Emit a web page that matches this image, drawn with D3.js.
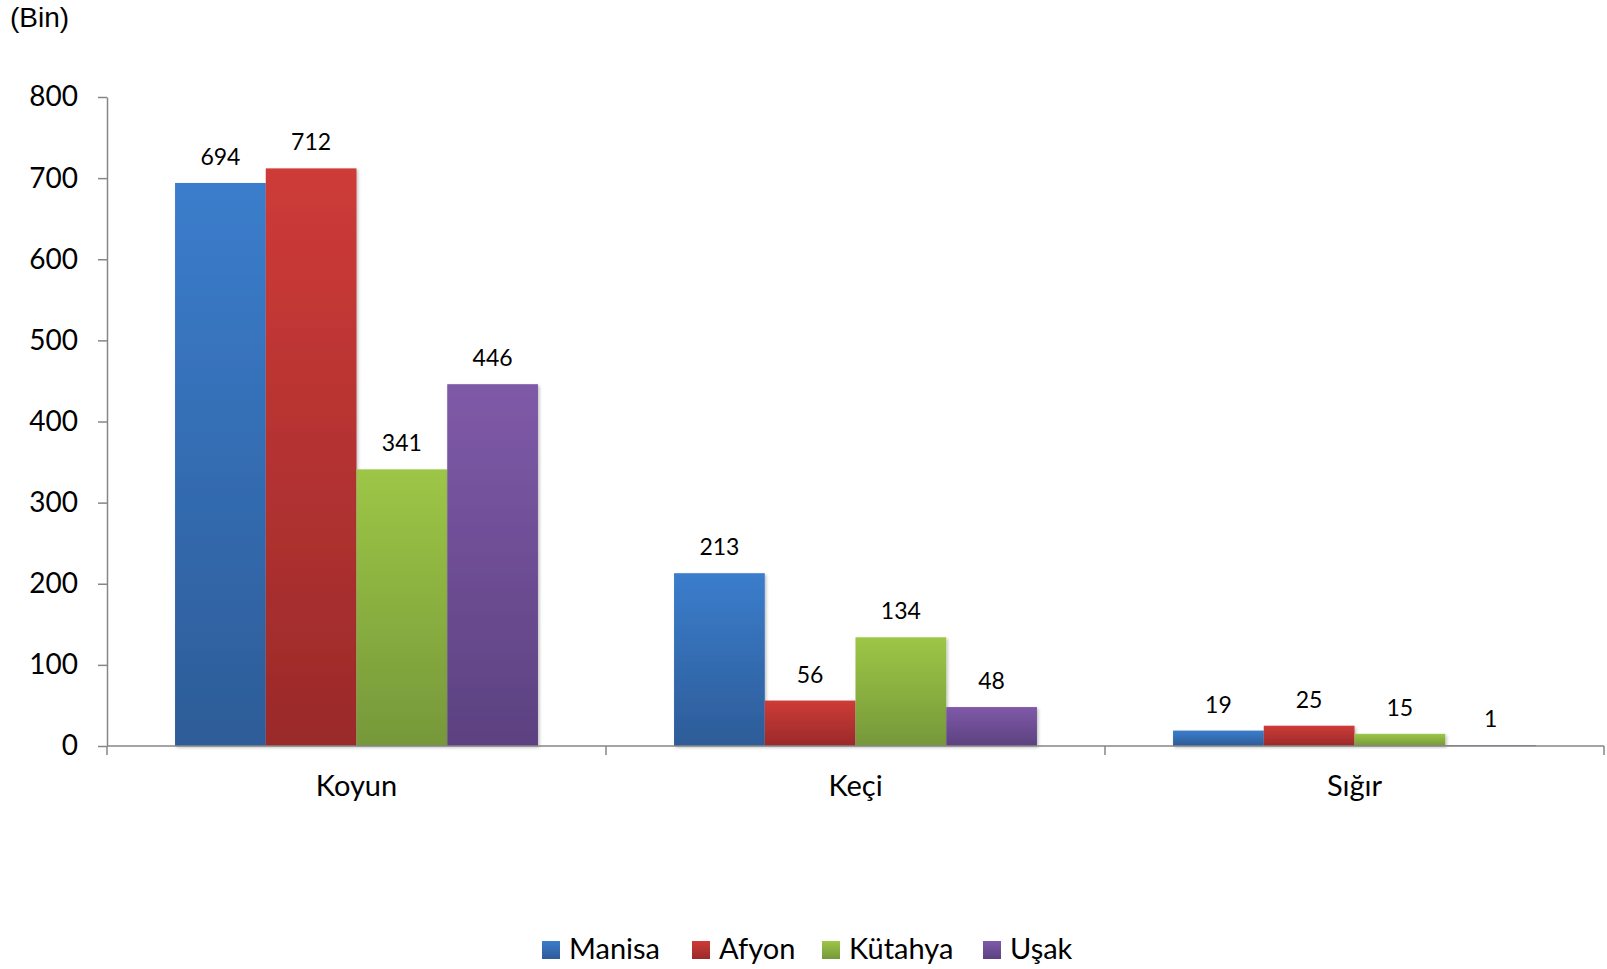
<!DOCTYPE html>
<html><head><meta charset="utf-8">
<script src="https://cdn.jsdelivr.net/npm/d3@7"></script>
<style>body{margin:0;background:#fff}svg{display:block}</style>
</head><body>
<script>
const categories = ["Koyun", "Keçi", "Sığır"];
const seriesNames = ["Manisa", "Afyon", "Kütahya", "Uşak"];
const manisa = [694, 213, 19];
const afyon = [712, 56, 25];
const kutahya = [341, 134, 15];
const usak = [446, 48, 1];
const yTicks = [0, 100, 200, 300, 400, 500, 600, 700, 800];
const unitLabel = "(Bin)";
const seriesValues = [manisa, afyon, kutahya, usak];
const colors = [["#3B7DCC", "#2D5C98"], ["#CE3B38", "#9A2A2A"], ["#9DC646", "#76983A"], ["#7F5AA8", "#5C4180"]];

const W = 1607, H = 969;
const svg = d3.select("body").append("svg").attr("width", W).attr("height", H);
const defs = svg.append("defs");
colors.forEach((c, i) => {
  const g = defs.append("linearGradient").attr("id", "g" + i).attr("x1", 0).attr("y1", 0).attr("x2", 0).attr("y2", 1);
  g.append("stop").attr("offset", "0%").attr("stop-color", c[0]);
  g.append("stop").attr("offset", "100%").attr("stop-color", c[1]);
});
const f = defs.append("filter").attr("id", "sh").attr("x", "-10%").attr("y", "-10%").attr("width", "130%").attr("height", "130%");
f.append("feDropShadow").attr("dx", 1.5).attr("dy", 1.5).attr("stdDeviation", 1.5).attr("flood-color", "#000").attr("flood-opacity", 0.25);

const x0 = 107, x1 = 1604, y0 = 746, y1 = 97;
const x = d3.scaleBand().domain(categories).range([x0, x1]).paddingInner(0).paddingOuter(0);
const xs = d3.scaleBand().domain(seriesNames).range([0, x.bandwidth()]).paddingInner(0).paddingOuter(0.75);
const y = d3.scaleLinear().domain([0, 800]).range([y0, y1]);

const font = "Lato, 'Open Sans', sans-serif";

// bars
seriesNames.forEach((s, si) => {
  const g = svg.append("g");
  g.selectAll("rect").data(categories).join("rect")
    .attr("x", c => x(c) + xs(s))
    .attr("y", (c, ci) => y(seriesValues[si][ci]))
    .attr("width", xs.bandwidth())
    .attr("height", (c, ci) => y0 - y(seriesValues[si][ci]))
    .attr("fill", "url(#g" + si + ")")
    .attr("filter", "url(#sh)");
  g.selectAll("text").data(categories).join("text")
    .attr("x", c => x(c) + xs(s) + xs.bandwidth() / 2)
    .attr("y", (c, ci) => y(seriesValues[si][ci]) - 18)
    .attr("text-anchor", "middle")
    .attr("font-family", font).attr("font-size", 23).attr("fill", "#000")
    .text((c, ci) => seriesValues[si][ci]);
});

// y axis
const yAxis = svg.append("g").attr("transform", `translate(${x0},0)`)
  .call(d3.axisLeft(y).tickValues(yTicks).tickSize(9).tickPadding(20).tickSizeOuter(0));
yAxis.select(".domain").attr("stroke", "#868686").attr("stroke-width", 1.5);
yAxis.selectAll(".tick line").attr("stroke", "#868686").attr("stroke-width", 1.5);
yAxis.selectAll("text").attr("font-family", font).attr("font-size", 28).attr("fill", "#000");

// x axis
const xa = svg.append("g").attr("transform", `translate(0,${y0})`);
xa.append("line").attr("x1", x0).attr("x2", x1).attr("y1", 0).attr("y2", 0).attr("stroke", "#868686").attr("stroke-width", 1.5);
const bounds = categories.map(c => x(c)).concat([x1]);
xa.selectAll("line.t").data(bounds).join("line").attr("class", "t")
  .attr("x1", d => d).attr("x2", d => d).attr("y1", 0).attr("y2", 9)
  .attr("stroke", "#868686").attr("stroke-width", 1.5);
xa.selectAll("text").data(categories).join("text")
  .attr("x", c => x(c) + x.bandwidth() / 2).attr("y", 50)
  .attr("text-anchor", "middle").attr("font-family", font).attr("font-size", 29).attr("fill", "#000")
  .text(c => c);

// unit label
svg.append("text").attr("x", 10).attr("y", 27).attr("font-family", "'Liberation Sans', Arial, sans-serif")
  .attr("font-size", 28).attr("fill", "#000").text(unitLabel);

// legend
const legX = [542, 692, 822, 983];
const lg = svg.append("g");
seriesNames.forEach((s, i) => {
  lg.append("rect").attr("x", legX[i]).attr("y", 941).attr("width", 18).attr("height", 18).attr("fill", "url(#g" + i + ")");
  lg.append("text").attr("x", legX[i] + 27).attr("y", 959).attr("font-family", font).attr("font-size", 29).attr("fill", "#000").text(s);
});
</script>
</body></html>
